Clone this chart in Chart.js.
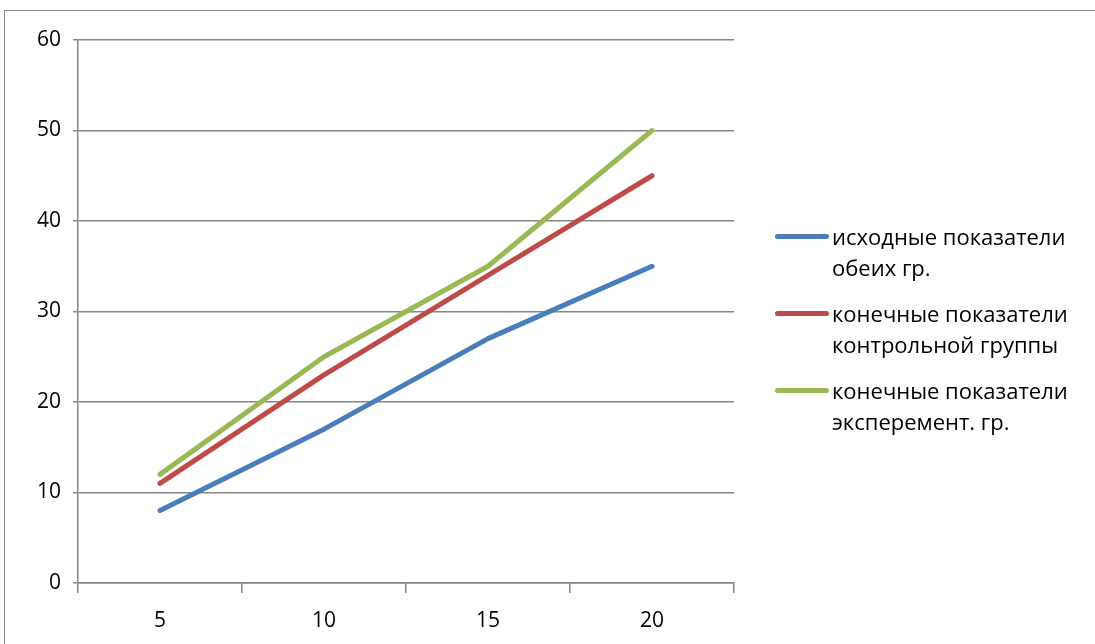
<!DOCTYPE html>
<html>
<head>
<meta charset="utf-8">
<script src="https://cdn.jsdelivr.net/npm/chart.js@4.4.0/dist/chart.umd.min.js"></script>
<style>
  html, body { margin: 0; padding: 0; background: #fff; }
  #wrap { position: relative; width: 1095px; height: 644px; overflow: hidden; }
  #frame { position: absolute; left: 4px; top: 10px; width: 1200px; height: 700px; border: 1px solid #868686; }
  canvas { position: absolute; left: 0; top: 0; }
  #legend { position: absolute; left: 775px; top: 221px; font-family: "Open Sans", sans-serif; font-size: 22px; color: #000; }
  .item { display: flex; align-items: flex-start; margin-bottom: 15px; line-height: 31px; }
  .swatch { width: 54px; height: 5px; border-radius: 3px; margin-top: 13px; margin-right: 3px; }
</style>
</head>
<body>
<div id="wrap">
  <div id="frame"></div>
  <canvas id="chart" width="1095" height="644"></canvas>
  <div id="legend"></div>
</div>
<script>
// categories and series
const categories = ["5", "10", "15", "20"];
const initialBoth = [8, 17, 27, 35];
const finalControl = [11, 23, 34, 45];
const finalExperimental = [12, 25, 35, 50];
const seriesNames = [
  ["исходные показатели", "обеих гр."],
  ["конечные показатели", "контрольной группы"],
  ["конечные показатели", "эксперемент. гр."]
];
const seriesColors = ["#4A7EBB", "#BE4B48", "#98B954"];

const font = { family: "'Open Sans', sans-serif", size: 21 };

const datasets = [initialBoth, finalControl, finalExperimental].map((data, i) => ({
  label: seriesNames[i].join(" "),
  data: data,
  borderColor: seriesColors[i],
  backgroundColor: seriesColors[i],
  borderWidth: 5,
  borderCapStyle: "round",
  borderJoinStyle: "round",
  pointRadius: 0,
  tension: 0,
  fill: false
}));

new Chart(document.getElementById("chart"), {
  type: "line",
  data: { labels: categories, datasets: datasets },
  options: {
    responsive: false,
    animation: false,
    layout: { padding: { left: 8, right: 361, top: 40, bottom: 11 } },
    plugins: { legend: { display: false }, tooltip: { enabled: false } },
    scales: {
      x: {
        offset: true,
        grid: {
          offset: true,
          drawOnChartArea: false,
          drawTicks: true,
          tickLength: 10,
          color: "#868686",
          lineWidth: 1.5
        },
        border: { color: "#868686", width: 1.5 },
        ticks: { color: "#000", font: font, padding: 15, maxRotation: 0 },
        afterFit: (s) => { s.height = 50; }
      },
      y: {
        min: 0,
        max: 60,
        ticks: { stepSize: 10, color: "#000", font: font, padding: 12 },
        grid: { color: "#868686", tickLength: 5, lineWidth: 1.5 },
        border: { color: "#868686", width: 1.5 },
        afterFit: (s) => { s.width = 70; }
      }
    }
  }
});

// legend as html text
const legend = document.getElementById("legend");
seriesNames.forEach((lines, i) => {
  const item = document.createElement("div");
  item.className = "item";
  const sw = document.createElement("div");
  sw.className = "swatch";
  sw.style.background = seriesColors[i];
  const txt = document.createElement("div");
  txt.innerHTML = lines.join("<br>");
  item.appendChild(sw);
  item.appendChild(txt);
  legend.appendChild(item);
});
</script>
</body>
</html>
